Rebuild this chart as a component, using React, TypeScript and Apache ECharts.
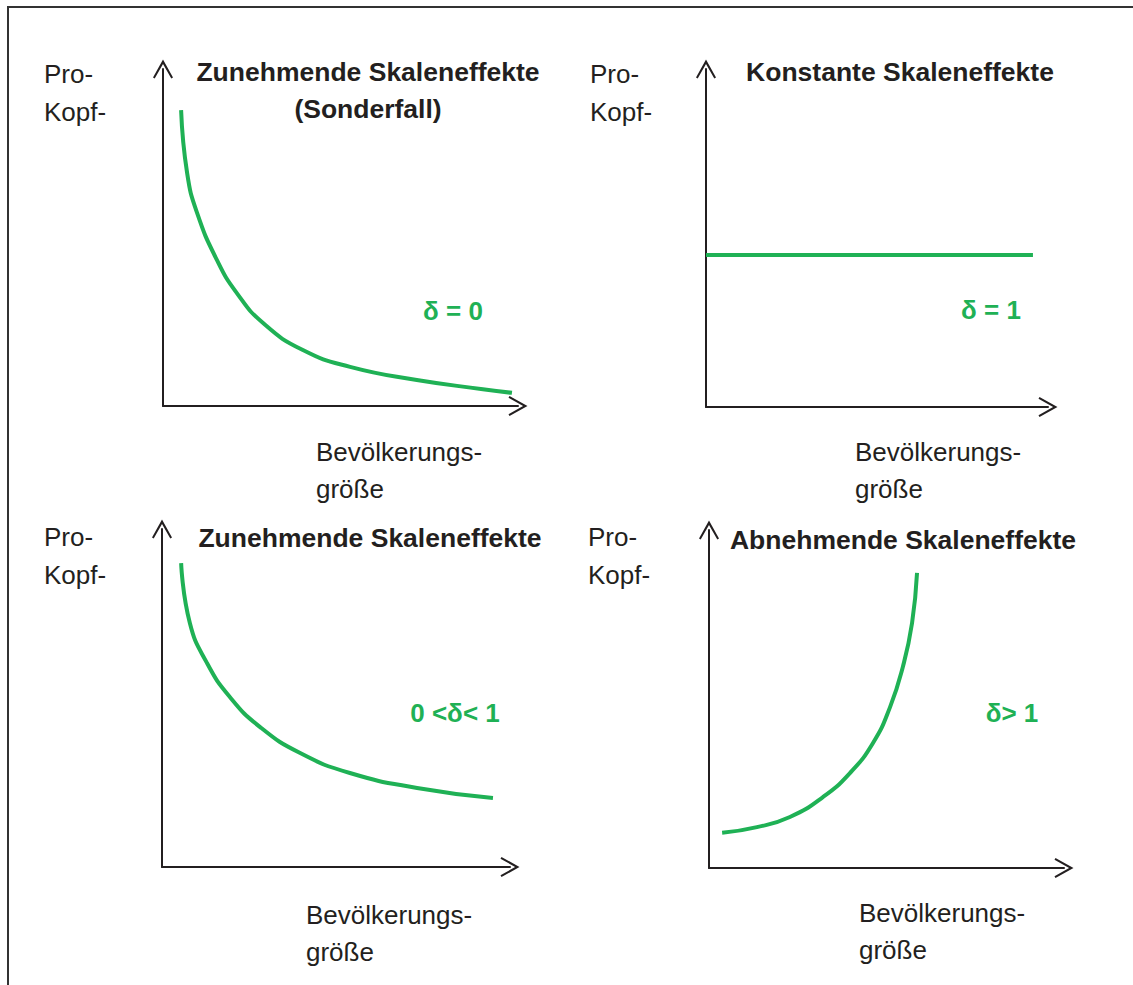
import React, { useEffect, useRef } from "react";
import * as echarts from "echarts";

// Curve data (abstract units 0..100 on both axes of each panel)
const curveSonderfall: number[][] = [
  [5.1, 87.8], [6.8, 69.1], [9.6, 57.3], [15.2, 43.3], [20.8, 33.5], [28.2, 24.6],
  [39.4, 16.6], [52.7, 11.6], [71.5, 7.7], [90.1, 5.0], [98.3, 3.9],
];
const curveKonstant: number[][] = [
  [0, 45], [95.6, 45],
];
const curveZunehmend: number[][] = [
  [5.5, 89.9], [8.0, 72.2], [12.9, 60.4], [19.5, 50.3], [28.2, 41.4], [39.7, 33.7],
  [54.0, 27.8], [73.3, 23.4], [95.1, 20.4],
];
const curveAbnehmend: number[][] = [
  [3.7, 10.4], [13.5, 12.1], [22.8, 15.1], [32.1, 21.0], [39.7, 28.1], [46.2, 37.0],
  [51.0, 47.6], [54.6, 59.5], [57.2, 72.5], [58.6, 87.3],
];

const panelTitles: string[][] = [
  ["Zunehmende Skaleneffekte", "(Sonderfall)"],
  ["Konstante Skaleneffekte"],
  ["Zunehmende Skaleneffekte"],
  ["Abnehmende Skaleneffekte"],
];
const deltaLabels: string[] = ["δ = 0", "δ = 1", "0 <δ< 1", "δ> 1"];
const yLabel: string[] = ["Pro-", "Kopf-"];
const xLabel: string[] = ["Bevölkerungs-", "größe"];

const GREEN = "#1fb155";
const INK = "#231f20";
const FONT = '"Liberation Sans", Arial, Helvetica, sans-serif';

const chevron = "path://M10,0 L20,18 L18.3,19 L10,4.4 L1.7,19 L0,18 Z";

// layout of panels (pixels)
const grids = [
  { left: 163, top: 69, width: 355, height: 337 },
  { left: 706, top: 69, width: 342, height: 338 },
  { left: 162, top: 529, width: 348, height: 338 },
  { left: 709, top: 530, width: 355, height: 338 },
];

const textPos = [
  { yl: [44, 74], title: [368, 72], delta: [453, 311], xl: [316, 452] },
  { yl: [590, 74], title: [900, 72], delta: [991, 310], xl: [855, 452] },
  { yl: [44, 537], title: [370, 538], delta: [455, 713], xl: [306, 915] },
  { yl: [588, 537], title: [903, 540], delta: [1012, 713], xl: [859, 913] },
];

function txt(text: string, x: number, y: number, opts: any = {}) {
  const align = opts.align || "left";
  return {
    type: "text",
    x,
    y,
    silent: true,
    style: {
      text,
      fill: opts.fill || INK,
      font: `${opts.bold ? "bold " : ""}${opts.size || 26}px ${FONT}`,
      align,
      textAlign: align,
      verticalAlign: "middle",
      textVerticalAlign: "middle",
    },
  };
}

export default function App() {
  const ref = useRef<HTMLDivElement>(null);
  useEffect(() => {
    document.body.style.margin = "0";
    if (!ref.current) return;
    const chart = echarts.init(ref.current, null, { renderer: "svg" });
    const curves = [curveSonderfall, curveKonstant, curveZunehmend, curveAbnehmend];

    const axisLine = {
      show: true,
      onZero: false,
      symbol: ["none", chevron],
      symbolSize: [20, 19],
      lineStyle: { color: INK, width: 2 },
    };

    const graphics: any[] = [
      {
        type: "rect",
        silent: true,
        shape: { x: 8, y: 7, width: 1200, height: 1100 },
        style: { fill: "none", stroke: "#333", lineWidth: 2 },
      },
    ];
    textPos.forEach((p, i) => {
      graphics.push(txt(yLabel[0], p.yl[0], p.yl[1]));
      graphics.push(txt(yLabel[1], p.yl[0], p.yl[1] + 38));
      panelTitles[i].forEach((t, j) => {
        graphics.push(txt(t, p.title[0], p.title[1] + j * 37, { bold: true, align: "center", size: 26.5 }));
      });
      graphics.push(txt(deltaLabels[i], p.delta[0], p.delta[1], { bold: true, align: "center", fill: GREEN }));
      graphics.push(txt(xLabel[0], p.xl[0], p.xl[1]));
      graphics.push(txt(xLabel[1], p.xl[0], p.xl[1] + 37));
    });

    chart.setOption({
      animation: false,
      backgroundColor: "#ffffff",
      grid: grids.map((g) => ({ ...g, containLabel: false })),
      xAxis: grids.map((_, i) => ({
        type: "value",
        gridIndex: i,
        min: 0,
        max: 100,
        position: "bottom",
        axisLine,
        axisTick: { show: false },
        axisLabel: { show: false },
        splitLine: { show: false },
      })),
      yAxis: grids.map((_, i) => ({
        type: "value",
        gridIndex: i,
        min: 0,
        max: 100,
        position: "left",
        axisLine,
        axisTick: { show: false },
        axisLabel: { show: false },
        splitLine: { show: false },
      })),
      series: curves.map((c, i) => ({
        type: "line",
        xAxisIndex: i,
        yAxisIndex: i,
        data: c,
        smooth: 0.5,
        showSymbol: false,
        symbol: "none",
        lineStyle: { color: GREEN, width: 4 },
        silent: true,
      })),
      graphic: graphics,
    });
    return () => chart.dispose();
  }, []);
  return <div ref={ref} style={{ width: 1133, height: 985 }} />;
}
